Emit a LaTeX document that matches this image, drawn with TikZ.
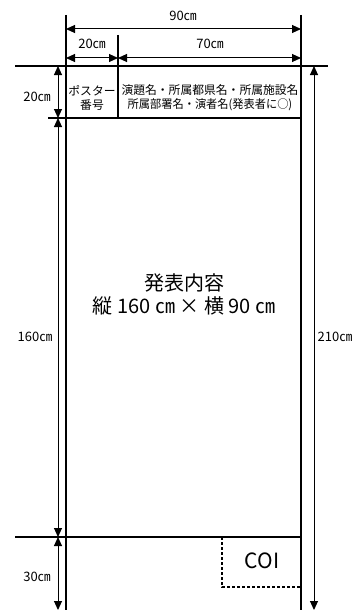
\documentclass[tikz,border=0pt]{standalone}
\usepackage{fontspec}
\setmainfont{Noto Sans CJK JP}
\usetikzlibrary{arrows.meta}
\tikzset{
  dim/.style={line width=1pt,{Triangle[length=9pt,width=8pt]}-{Triangle[length=9pt,width=8pt]}},
  border/.style={line width=1.4pt},
  thin/.style={line width=1.1pt},
  lab/.style={inner sep=0pt,font=\fontsize{13}{14}\selectfont},
  hdr/.style={inner sep=0pt,font=\fontsize{11.8}{14}\selectfont,align=center},
}
\begin{document}
\begin{tikzpicture}[x=1pt,y=-1pt]
\useasboundingbox (0,0) rectangle (356,610);
% coordinates
\coordinate (TLtop) at (66,15);  \coordinate (TLbot) at (66,610);
\coordinate (TRtop) at (301,15); \coordinate (TRbot) at (301,610);
\coordinate (Dtop) at (118,35);  \coordinate (Dbot) at (118,118);
\coordinate (Htl) at (15,66);    \coordinate (Htr) at (328,66);
\coordinate (Hbl) at (48,118);   \coordinate (Hbr) at (301,118);
\coordinate (Sl) at (15,537);    \coordinate (Sr) at (301,537);
% borders
\draw[border] (TLtop) -- (TLbot);
\draw[border] (TRtop) -- (TRbot);
\draw[thin] (Dtop) -- (Dbot);
\draw[thin] (Htl) -- (Htr);
\draw[thin] (Hbl) -- (Hbr);
\draw[thin] (Sl) -- (Sr);
% horizontal dimensions
\coordinate (a90l) at (66,29);  \coordinate (a90r) at (301,29);
\coordinate (a20l) at (66,58);  \coordinate (a20r) at (118,58);
\coordinate (a70l) at (118,58); \coordinate (a70r) at (301,58);
\draw[dim] (a90l) -- (a90r);
\draw[dim] (a20l) -- (a20r);
\draw[dim] (a70l) -- (a70r);
\node[lab] (l90) at (183,16) {90㎝};
\node[lab] (l20) at (92,44) {20㎝};
\node[lab] (l70) at (210,44) {70㎝};
% left vertical dimensions
\coordinate (v1) at (58,66); \coordinate (v2) at (58,118);
\coordinate (v3) at (58,537); \coordinate (v4) at (58,610);
\draw[dim] (v1) -- (v2);
\draw[dim] (v2) -- (v3);
\draw[dim] (v3) -- (v4);
\node[lab] (lh20) at (37,97) {20㎝};
\node[lab] (lh160) at (35,337) {160㎝};
\node[lab] (lh30) at (37,577) {30㎝};
% right vertical dimension
\coordinate (r1) at (314,66); \coordinate (r2) at (314,610);
\draw[dim] (r1) -- (r2);
\node[lab] (lh210) at (335,337) {210㎝};
% header texts
\node[hdr] (pn) at (92,97.5) {ポスター\\番号};
\node[hdr] (tt) at (210,97.5) {演題名・所属都県名・所属施設名\\\scalebox{0.95}[1]{所属部署名・演者名(発表者に○)}};
% main text
\node[inner sep=0pt,font=\fontsize{20}{23}\selectfont,align=center] (main) at (184,294) {発表内容\\縦 160 ㎝ × 横 90 ㎝};
% COI
\coordinate (c1) at (222,537); \coordinate (c2) at (301,587);
\draw[thin,dashed,dash pattern=on 3pt off 2pt] (c1) -- (c1|-c2) -- (c2);
\node[inner sep=0pt,font=\fontsize{21}{21}\selectfont] (coi) at (262,561) {COI};
\end{tikzpicture}
\end{document}
